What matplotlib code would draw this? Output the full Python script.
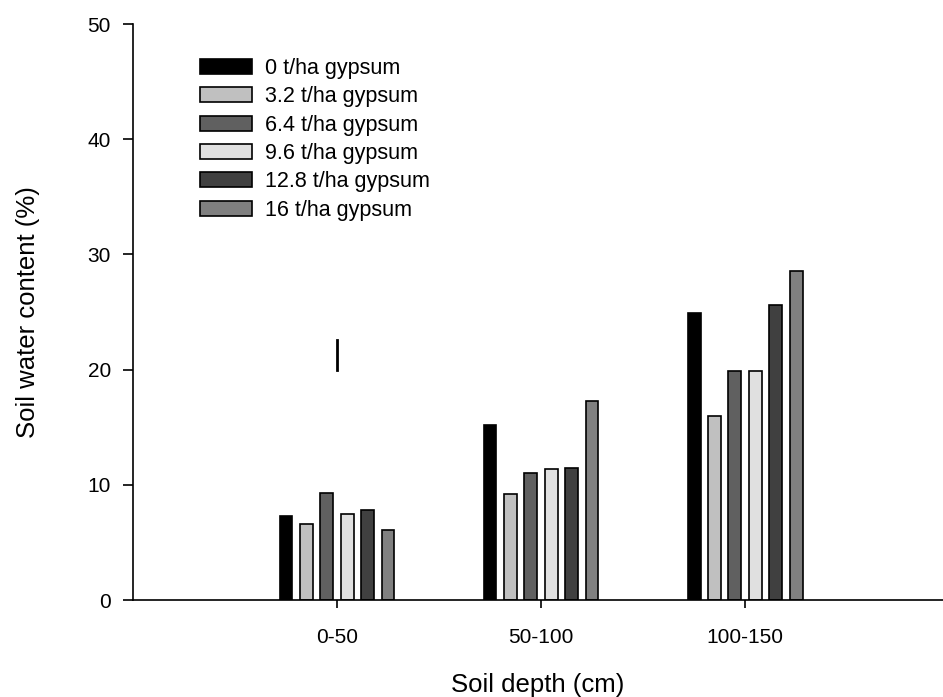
import matplotlib
matplotlib.use("Agg")
import matplotlib.pyplot as plt
import numpy as np

plt.rcParams['font.family'] = ['Liberation Sans', 'DejaVu Sans']

depths = ['0-50', '50-100', '100-150']
treatments = ['0 t/ha gypsum', '3.2 t/ha gypsum', '6.4 t/ha gypsum',
              '9.6 t/ha gypsum', '12.8 t/ha gypsum', '16 t/ha gypsum']
water = [
    [7.3, 15.2, 24.9],
    [6.6, 9.2, 16.0],
    [9.3, 11.0, 19.9],
    [7.5, 11.4, 19.9],
    [7.8, 11.5, 25.6],
    [6.1, 17.3, 28.6],
]
colors = ['#000000', '#c0c0c0', '#606060', '#e0e0e0', '#404040', '#808080']
lsd_bar = [20.0, 22.6]

fig = plt.figure(figsize=(9.43, 6.97), dpi=100)
ax = fig.add_axes([133 / 943, 97 / 697, 1 - 133 / 943, 576 / 697])

x = np.arange(1, len(depths) + 1)
step = 0.1
width = 0.063
for i, (name, vals) in enumerate(zip(treatments, water)):
    ax.bar(x + (i - 2.5) * step, vals, width, color=colors[i],
           edgecolor='black', linewidth=1.2, label=name)

ax.plot([1, 1], lsd_bar, color='black', linewidth=2)

ax.set_xlim(0, 3.97)
ax.set_ylim(0, 50)
ax.set_xticks(x)
ax.set_xticklabels(depths)
ax.set_yticks([0, 10, 20, 30, 40, 50])
ax.tick_params(axis='x', direction='out', length=6, width=1.2, pad=14, labelsize=15)
ax.tick_params(axis='y', direction='out', length=7, width=1.2, pad=9, labelsize=15)
for s in ['top', 'right']:
    ax.spines[s].set_visible(False)
for s in ['left', 'bottom']:
    ax.spines[s].set_linewidth(1.2)

ax.set_xlabel('Soil depth (cm)', fontsize=18.5, labelpad=19)
ax.set_ylabel('Soil water content (%)', fontsize=18.5, labelpad=34)

ax.legend(loc='upper left', bbox_to_anchor=(200 / 943, 1 - 58 / 697),
          bbox_transform=fig.transFigure, frameon=False, fontsize=15.5,
          handlelength=2.42, handleheight=0.7, labelspacing=0.34,
          handletextpad=0.6, borderpad=0, borderaxespad=0)

fig.savefig('out.png', dpi=100)
